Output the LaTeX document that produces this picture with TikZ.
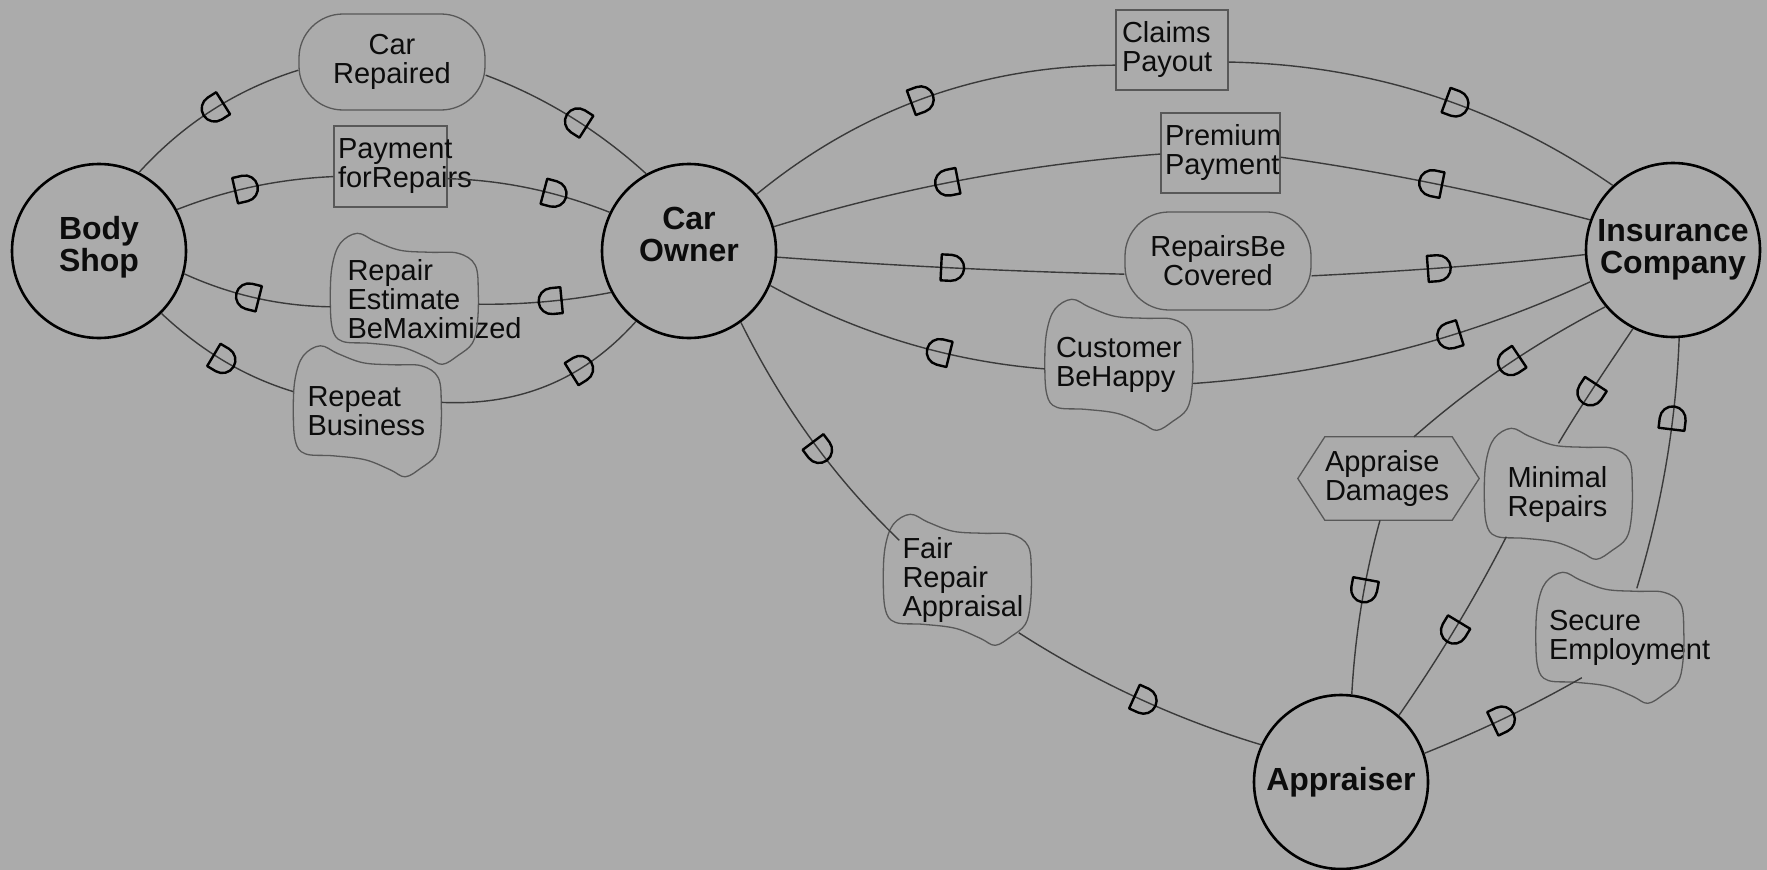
\documentclass[tikz,border=0pt]{standalone}
\usepackage{fontspec}
\setmainfont{Liberation Sans}
\definecolor{bgc}{RGB}{171,171,171}
\definecolor{linec}{RGB}{58,58,58}
\definecolor{depc}{RGB}{88,88,88}
\definecolor{inkc}{RGB}{12,12,12}

% wavy outline of a softgoal, drawn in the box of the given node (148 x 131)
\newcommand\cloudoutline[1]{%
  \begin{scope}[shift={(#1.north west)}]
    \draw[depline] plot[smooth cycle,tension=0.6] coordinates {
      (27,0) (45,-8) (70,-17) (100,-19) (128,-20) (145,-32) (148,-60)
      (147,-90) (142,-110) (128,-122) (112,-131) (97,-124) (72,-114)
      (40,-110) (12,-108) (2,-95) (0,-62) (2,-32) (10,-10)};
  \end{scope}}
% hexagon of a task, drawn round the given node
\newcommand\taskoutline[1]{%
  \draw[depline] ([xshift=27pt]#1.north west) -- ([xshift=-27pt]#1.north east)
    -- (#1.east) -- ([xshift=-27pt]#1.south east) -- ([xshift=27pt]#1.south west)
    -- (#1.west) -- cycle;}
% two-line actor name, set off the centre by the given amount
\newcommand\actorname[2]{\raisebox{#1}[0pt][0pt]{\begin{tabular}{@{}c@{}}#2\end{tabular}}}

\begin{document}
\begin{tikzpicture}[x=1pt,y=1pt,
  every node/.style={text=inkc},
  actor/.style={circle,draw=black,line width=2.6pt,minimum size=174pt,inner sep=0pt,
    align=center,font=\fontsize{32pt}{32pt}\selectfont\bfseries},
  depline/.style={draw=depc,line width=1.3pt},
  lbl/.style={font=\fontsize{29pt}{29pt}\selectfont,inner ysep=0pt},
  rsrc/.style={lbl,rectangle,depline,align=left},
  goalbox/.style={lbl,rectangle,depline,rounded corners=44pt,align=center,
    text width=174pt,inner xsep=6pt},
  cloudbox/.style={lbl,rectangle,align=left,minimum height=131pt},
  taskbox/.style={lbl,rectangle,align=left,text width=127pt,inner xsep=27pt,minimum height=83pt},
  conn/.style={draw=linec,line width=1.4pt},
  dmark/.pic={\draw[line width=2.4pt,draw=black,line join=round]
    (-11pt,-13pt) -- (-11pt,13pt) -- (-1pt,13pt)
    arc[start angle=90,end angle=-90,radius=13pt] -- cycle;}
]
\fill[bgc] (0,0) rectangle (1767,-870);
\useasboundingbox (0,0) rectangle (1767,-870);

% actors
\node[actor] (BS) at (99,-251) {\actorname{-4pt}{Body\\Shop}};
\node[actor] (CO) at (689,-251) {\actorname{6pt}{Car\\Owner}};
\node[actor] (IC) at (1673,-250) {Insurance\\Company};
\node[actor] (AP) at (1341,-782) {Appraiser};

% dependums between body shop and car owner
\node[goalbox,minimum height=96pt] (CR) at (392,-62) {Car\\Repaired};
\node[rsrc,text width=105pt,inner xsep=4pt,minimum height=81pt] (PAY) at (390.5,-166.5) {Payment\\forRepairs};
\node[cloudbox,text width=114pt,inner xsep=17pt] (RE) at (404.5,-299) {Repair\\Estimate\\BeMaximized};
\node[cloudbox,text width=120pt,inner xsep=14pt] (RB) at (367.5,-411.5) {Repeat\\Business};

% dependums between car owner and insurance company
\node[rsrc,text width=100pt,inner xsep=6pt,minimum height=80pt] (CP) at (1172,-50) {Claims\\Payout};
\node[rsrc,text width=111pt,inner xsep=4pt,minimum height=80pt] (PP) at (1220.5,-153) {Premium\\Payment};
\node[goalbox,minimum height=98pt] (RBC) at (1218,-261) {RepairsBe\\Covered};
\node[cloudbox,text width=126pt,inner xsep=11pt] (CBH) at (1119,-365) {Customer\\BeHappy};

% dependums of the appraiser
\node[cloudbox,text width=110pt,inner xsep=19pt] (FRA) at (957.5,-580) {Fair\\Repair\\Appraisal};
\node[taskbox] (AD) at (1388.5,-478.5) {Appraise\\Damages};
\node[cloudbox,text width=102pt,inner xsep=23pt] (MR) at (1558.5,-494) {Minimal\\Repairs};
\node[cloudbox,text width=122pt,inner xsep=13pt] (SE) at (1610,-638) {Secure\\Employment};

\cloudoutline{RE}
\cloudoutline{RB}
\cloudoutline{CBH}
\cloudoutline{FRA}
\cloudoutline{MR}
\cloudoutline{SE}
\taskoutline{AD}

% dependency links, each drawn from depender towards dependee;
% the D mark sits at the given position along its link
\newcommand\link[5]{\draw[conn] #1 .. controls #2 and #3 .. #4
  pic[pos=#5,sloped,allow upside down]{dmark};}

\link{(CO.119.5)}{(599.1,-130.9)}{(545.5,-97.6)}{(CR.352)}{0.46}
\link{(CR.185)}{(237,-89.3)}{(184,-123)}{(BS.63)}{0.492}
\link{(BS.28.6)}{(228.4,-189.3)}{(280.4,-178.9)}{(PAY.190.5)}{0.444}
\link{(PAY.348.5)}{(503,-180.1)}{(556.7,-191.5)}{(CO.154)}{0.655}
\link{(CO.208)}{(569.5,-300.5)}{(524.5,-304.8)}{(RE.356.2)}{0.469}
\link{(RE.186.1)}{(278.8,-306)}{(230.1,-294.7)}{(BS.345.5)}{0.549}
\link{(BS.315.4)}{(202.2,-351.7)}{(245.5,-377.1)}{(RB.165)}{0.489}
\link{(RB.7.5)}{(518.3,-405.8)}{(582.7,-380.8)}{(CO.233.6)}{0.678}

\link{(CO.40)}{(861.1,-108.8)}{(980.8,-65.8)}{(CP.195)}{0.4915}
\link{(CP.348)}{(1369.7,-64.7)}{(1497.7,-106)}{(IC.133.6)}{0.568}
\link{(IC.160.6)}{(1486.5,-192.7)}{(1383.8,-171.7)}{(PP.356.2)}{0.513}
\link{(PP.181.9)}{(1028.8,-163.8)}{(899.5,-187.8)}{(CO.16)}{0.546}
\link{(CO.356)}{(891.5,-265.5)}{(1008.2,-271.5)}{(RBC.188.6)}{0.506}
\link{(RBC.351.4)}{(1403.6,-271.3)}{(1495.9,-264.7)}{(IC.183.4)}{0.4615}
\link{(IC.201)}{(1464.1,-340.3)}{(1331.4,-373.6)}{(CBH.346.9)}{0.366}
\link{(CBH.183.9)}{(948.7,-361.2)}{(856.7,-333.2)}{(CO.337)}{0.374}

\link{(CO.306.6)}{(782.4,-406.2)}{(834.1,-477.9)}{([xshift=16pt,yshift=-26pt]FRA.north west)}{0.553}
\link{([xshift=-13pt,yshift=13pt]FRA.south east)}{(1094.9,-681.6)}{(1175.2,-718.9)}{(AP.155.4)}{0.534}
\link{(IC.220.5)}{(1535.7,-342.6)}{(1472,-385.6)}{([xshift=25.5pt]AD.north)}{0.475}
\link{([xshift=-8.5pt]AD.south)}{(1364.7,-575.7)}{(1355.3,-632.3)}{(AP.83)}{0.416}
\link{(IC.243)}{(1604.1,-371.6)}{(1580.1,-406.9)}{([yshift=-15pt]MR.north)}{0.543}
\link{([xshift=22pt,yshift=23pt]MR.south west)}{(1475.2,-597.5)}{(1440.2,-655.9)}{(AP.49)}{0.528}
\link{(AP.19.4)}{(1479.4,-731.3)}{(1531.1,-706.7)}{([xshift=46pt,yshift=26pt]SE.south west)}{0.4875}
\link{([xshift=101pt,yshift=-16pt]SE.north west)}{(1661.3,-507.1)}{(1675.9,-424.4)}{(IC.274.4)}{0.686}
\end{tikzpicture}
\end{document}
